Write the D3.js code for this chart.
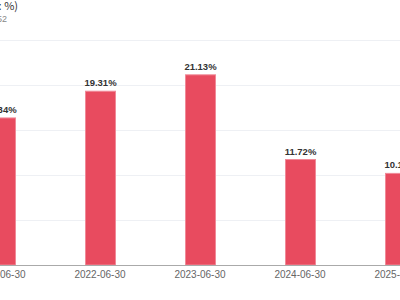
<!DOCTYPE html>
<html><head><meta charset="utf-8">
<script src="https://cdn.jsdelivr.net/npm/d3@7"></script>
<style>body{margin:0;background:#fff;}svg{display:block;font-family:"Liberation Sans",Arial,sans-serif;}</style>
</head><body>
<svg id="c" width="400" height="300"></svg>
<script>
const categories = ["2021-06-30","2022-06-30","2023-06-30","2024-06-30","2025-06-30"];
const values = [16.34, 19.31, 21.13, 11.72, 10.18];
const yTicks = [0, 5, 10, 15, 20, 25];
const titleText = "净资产收益率(单位: %)";
const subtitleText = "600052";

const svg = d3.select("#c");
const x = d3.scaleBand().domain(categories).range([-50, 450]).paddingInner(0.7).paddingOuter(0.35);
const y = d3.scaleLinear().domain([0, 25]).range([265, 40]);

svg.append("g").selectAll("line").data(yTicks.slice(1)).join("line")
  .attr("x1", 0).attr("x2", 400)
  .attr("y1", d => y(d) + 0.5).attr("y2", d => y(d) + 0.5)
  .attr("stroke", "#eef0f4").attr("stroke-width", 1);

svg.append("g").selectAll("rect").data(values).join("rect")
  .attr("x", (d, i) => x(categories[i]) + 0.5)
  .attr("y", d => y(d))
  .attr("width", x.bandwidth())
  .attr("height", d => y(0) - y(d))
  .attr("fill", "#e84b5f")
  .attr("stroke", "#f08a98").attr("stroke-width", 1);

svg.append("g").selectAll("text").data(values).join("text")
  .attr("x", (d, i) => x(categories[i]) + x.bandwidth() / 2 + 0.5)
  .attr("y", d => y(d) - 5)
  .attr("text-anchor", "middle")
  .attr("font-size", 9.5).attr("font-weight", "bold").attr("fill", "#333")
  .text(d => d.toFixed(2) + "%");

const xAxis = svg.append("g").attr("transform", "translate(0,265)")
  .call(d3.axisBottom(x).tickSize(0).tickPadding(6));
xAxis.select(".domain").attr("stroke", "#aaa").attr("d", "M0,0.5H400");
xAxis.selectAll("text").attr("fill", "#666").attr("font-size", 10)
  .attr("font-family", "Liberation Sans, Arial, sans-serif");

svg.append("text").attr("x", 18).attr("y", 10).attr("text-anchor", "end")
  .attr("font-size", 11).attr("fill", "#333")
  .attr("font-family", "Noto Sans CJK SC, Liberation Sans, sans-serif")
  .text(titleText);
svg.append("text").attr("x", 7).attr("y", 22).attr("text-anchor", "end")
  .attr("font-size", 9).attr("fill", "#888")
  .text(subtitleText);
</script>
</body></html>
